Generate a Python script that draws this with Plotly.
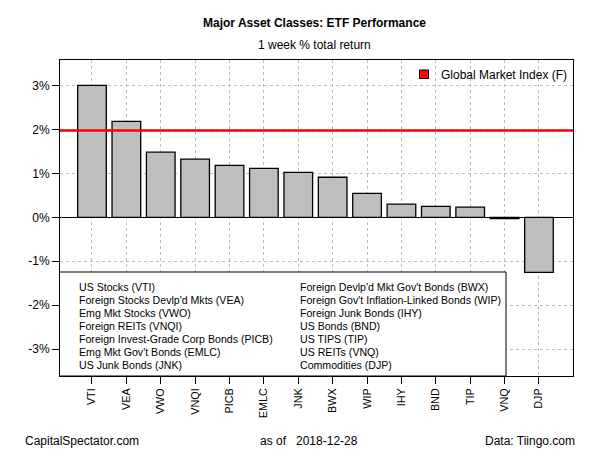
import plotly.graph_objects as go

tickers = ["VTI", "VEA", "VWO", "VNQI", "PICB", "EMLC", "JNK", "BWX", "WIP", "IHY", "BND", "TIP", "VNQ", "DJP"]
returns = [3.00, 2.18, 1.48, 1.32, 1.18, 1.11, 1.02, 0.91, 0.545, 0.30, 0.25, 0.23, -0.03, -1.25]
global_market = 1.97
global_label = "Global Market Index (F)"

legend_col1 = ["US Stocks (VTI)", "Foreign Stocks Devlp'd Mkts (VEA)", "Emg Mkt Stocks (VWO)",
               "Foreign REITs (VNQI)", "Foreign Invest-Grade Corp Bonds (PICB)",
               "Emg Mkt Gov't Bonds (EMLC)", "US Junk Bonds (JNK)"]
legend_col2 = ["Foreign Devlp'd Mkt Gov't Bonds (BWX)", "Foreign Gov't Inflation-Linked Bonds (WIP)",
               "Foreign Junk Bonds (IHY)", "US Bonds (BND)", "US TIPS (TIP)",
               "US REITs (VNQ)", "Commodities (DJP)"]

ytick_vals = [-3, -2, -1, 0, 1, 2, 3]
ytick_text = ["-3%", "-2%", "-1%", "0%", "1%", "2%", "3%"]

title = "Major Asset Classes: ETF Performance"
subtitle = "1 week % total return"
left_note = "CapitalSpectator.com"
mid_note = "as of   2018-12-28"
right_note = "Data: Tiingo.com"

FONT = "Liberation Sans, Arial, sans-serif"
W, H = 600, 450
L, R, T, B = 60, 573, 60, 376


def px(x):
    return (x - L) / (R - L)


def py(y):
    return (B - y) / (B - T)


fig = go.Figure()
fig.add_trace(go.Bar(
    x=tickers, y=returns,
    marker=dict(color="#BEBEBE", line=dict(color="black", width=1.3)),
    showlegend=False, hoverinfo="x+y",
))

fig.add_hline(y=global_market, line=dict(color="#FF0000", width=2.5))

shapes = [
    dict(type="rect", xref="paper", yref="paper", x0=px(409), x1=px(573), y0=py(87), y1=py(60),
         fillcolor="white", line=dict(color="black", width=1), layer="above"),
    dict(type="rect", xref="paper", yref="paper", x0=px(419.5), x1=px(428.5), y0=py(78.5), y1=py(70),
         fillcolor="#FF0000", line=dict(color="black", width=1), layer="above"),
    dict(type="rect", xref="paper", yref="paper", x0=px(59.5), x1=px(506), y0=py(376), y1=py(272),
         fillcolor="white", line=dict(color="black", width=1), layer="above"),
]

ann = []
ann.append(dict(text="<b>" + title + "</b>", x=px(314), y=py(23), xref="paper", yref="paper",
                showarrow=False, font=dict(size=12, family=FONT, color="black"),
                xanchor="center", yanchor="middle"))
ann.append(dict(text=subtitle, x=px(314), y=py(45), xref="paper", yref="paper",
                showarrow=False, font=dict(size=12, family=FONT, color="black"),
                xanchor="center", yanchor="middle"))
ann.append(dict(text=global_label, x=px(439), y=py(74.5), xref="paper", yref="paper",
                showarrow=False, font=dict(size=12, family=FONT, color="black"),
                xanchor="left", yanchor="middle"))
row_y0 = 286.7
row_dy = 13.1
for i, (a, b) in enumerate(zip(legend_col1, legend_col2)):
    yy = py(row_y0 + i * row_dy)
    ann.append(dict(text=a, x=px(77), y=yy, xref="paper", yref="paper", showarrow=False,
                    font=dict(size=10.6, family=FONT, color="black"), xanchor="left", yanchor="middle"))
    ann.append(dict(text=b, x=px(298), y=yy, xref="paper", yref="paper", showarrow=False,
                    font=dict(size=10.6, family=FONT, color="black"), xanchor="left", yanchor="middle"))
ann.append(dict(text=left_note, x=px(23), y=py(441), xref="paper", yref="paper", showarrow=False,
                font=dict(size=12, family=FONT, color="black"), xanchor="left", yanchor="middle"))
ann.append(dict(text=mid_note, x=px(309), y=py(441), xref="paper", yref="paper", showarrow=False,
                font=dict(size=12, family=FONT, color="black"), xanchor="center", yanchor="middle"))
ann.append(dict(text=right_note, x=px(577), y=py(441), xref="paper", yref="paper", showarrow=False,
                font=dict(size=12, family=FONT, color="black"), xanchor="right", yanchor="middle"))

fig.update_layout(
    width=W, height=H,
    margin=dict(l=L, r=W - R, t=T, b=H - B, pad=0),
    paper_bgcolor="white", plot_bgcolor="white",
    bargap=0.167,
    shapes=shapes, annotations=ann,
    font=dict(family=FONT, color="black"),
    showlegend=False,
)
fig.update_xaxes(
    type="category", categoryorder="array", categoryarray=tickers,
    range=[-0.93, 13.99],
    showline=True, linecolor="black", linewidth=1, mirror=True,
    ticks="outside", ticklen=7, tickcolor="black", tickwidth=1,
    tickangle=-90, tickfont=dict(size=10.8, family=FONT, color="black"),
    showgrid=True, gridcolor="#BEBEBE", griddash="dot", gridwidth=1,
)
fig.update_yaxes(
    range=[-3.607, 3.575],
    tickmode="array", tickvals=ytick_vals, ticktext=ytick_text,
    showline=True, linecolor="black", linewidth=1, mirror=True,
    ticks="outside", ticklen=7, tickcolor="black", tickwidth=1,
    tickfont=dict(size=12, family=FONT, color="black"),
    showgrid=True, gridcolor="#BEBEBE", griddash="dot", gridwidth=1,
    zeroline=True, zerolinecolor="black", zerolinewidth=1,
)

fig.write_html(
    "out.html",
    config={"displayModeBar": False},
    post_script="document.body.style.margin='0px';document.body.style.overflow='hidden';",
)
